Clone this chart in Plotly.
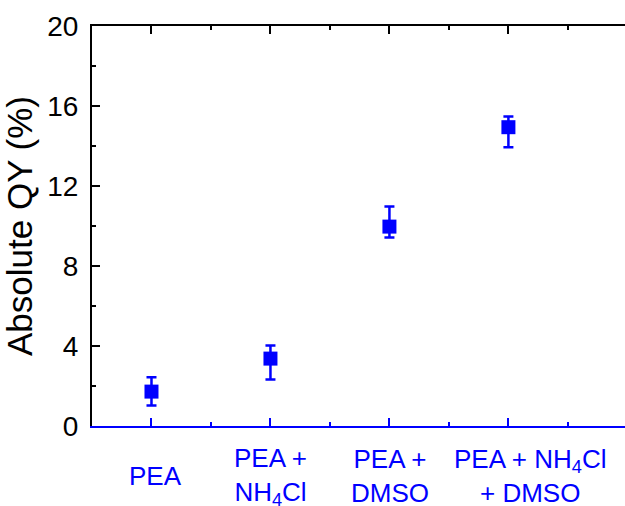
import plotly.graph_objects as go

categories = ["PEA", "PEA +<br>NH<sub>4</sub>Cl", "PEA +<br>DMSO", "PEA + NH<sub>4</sub>Cl<br>+ DMSO"]
positions = [1, 2, 3, 4]
qy = [1.72, 3.37, 9.97, 14.94]
err_plus = [0.72, 0.65, 1.0, 0.53]
err_minus = [0.70, 1.04, 0.55, 1.0]
y_ticks = [0, 4, 8, 12, 16, 20]

BLUE = "#0000FF"
label_shift = [4, 0, 1, 22]  # horizontal nudges of category labels (px)

fig = go.Figure()
fig.add_trace(go.Scatter(
    x=positions, y=qy, mode="markers",
    marker=dict(symbol="square", size=14, color=BLUE),
    error_y=dict(type="data", symmetric=False, array=err_plus, arrayminus=err_minus,
                 color=BLUE, thickness=2.5, width=5),
    showlegend=False,
))
# invisible trace for top axis
fig.add_trace(go.Scatter(x=positions, y=qy, xaxis="x2", mode="markers",
                         marker=dict(opacity=0), showlegend=False, hoverinfo="skip"))

for p, c, s in zip(positions, categories, label_shift):
    fig.add_annotation(x=p, y=-0.126, xref="x", yref="paper", text=c, showarrow=False,
                       yanchor="middle", xanchor="center", align="center", xshift=s,
                       font=dict(family="Arial, Liberation Sans", size=26, color=BLUE))

fig.update_layout(
    width=625, height=506,
    margin=dict(l=92, r=0, t=26, b=80, autoexpand=False),
    plot_bgcolor="white", paper_bgcolor="white",
    font=dict(family="Arial, Liberation Sans", color="black"),
    xaxis=dict(range=[0.5, 4.98], tickvals=positions, ticktext=[""] * 4,
               showgrid=False, zeroline=False, showline=True, linecolor=BLUE, linewidth=2,
               ticks="inside", tickcolor=BLUE, tickwidth=2, ticklen=8,
               minor=dict(ticks="inside", dtick=0.5, tick0=0.5, ticklen=4, tickcolor=BLUE, tickwidth=2)),
    xaxis2=dict(range=[0.5, 4.98], overlaying="x", side="top", tickvals=positions,
                showticklabels=False, showgrid=False, zeroline=False, showline=True,
                linecolor="black", linewidth=2, ticks="inside", tickcolor="black", tickwidth=2, ticklen=8,
                minor=dict(ticks="inside", dtick=0.5, tick0=0.5, ticklen=4, tickcolor="black", tickwidth=2)),
    yaxis=dict(range=[0, 20], tickvals=y_ticks, showgrid=False, zeroline=False,
               showline=True, linecolor="black", linewidth=2, automargin=False,
               ticks="inside", tickcolor="black", tickwidth=2, ticklen=8,
               minor=dict(ticks="inside", dtick=2, tick0=0, ticklen=4, tickcolor="black", tickwidth=2),
               tickfont=dict(size=28, color="black"), ticklabelstandoff=6,
               title=dict(text="Absolute QY (%)", font=dict(size=35, color="black"), standoff=8)),
)

fig.write_html("out.html", config={"displayModeBar": False},
               post_script="document.body.style.margin='0';")
